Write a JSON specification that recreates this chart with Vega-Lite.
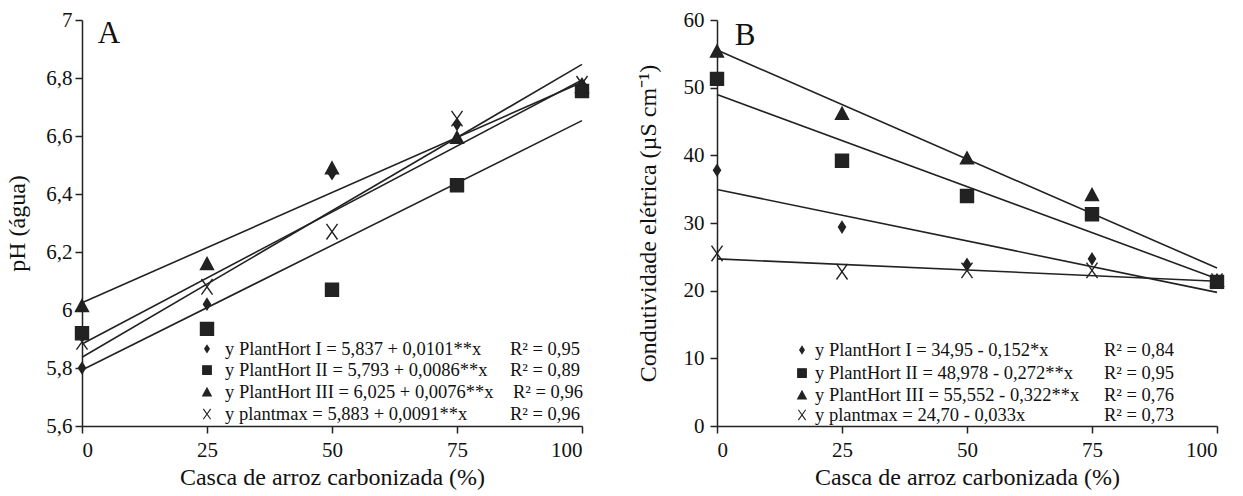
{
  "$schema": "https://vega.github.io/schema/vega-lite/v6.json",
  "background": "white",
  "padding": {"left": 5, "top": 9, "right": 5, "bottom": 5},
  "bounds": "flush",
  "spacing": 135,
  "config": {
    "view": {"stroke": null},
    "font": "Liberation Serif",
    "axis": {
      "grid": false,
      "labelFont": "Liberation Serif",
      "titleFont": "Liberation Serif",
      "labelFontSize": 21,
      "titleFontSize": 24,
      "titleFontWeight": "normal",
      "labelColor": "#111",
      "titleColor": "#111",
      "domainColor": "#222",
      "tickColor": "#222",
      "domainWidth": 1.5,
      "tickWidth": 1.5,
      "tickSize": 7,
      "labelPadding": 3
    }
  },
  "datasets": {
    "pts": [
      {"panel": "A", "series": "I", "x": 0, "y": 5.80},
      {"panel": "A", "series": "I", "x": 25, "y": 6.02},
      {"panel": "A", "series": "I", "x": 50, "y": 6.47},
      {"panel": "A", "series": "I", "x": 75, "y": 6.64},
      {"panel": "A", "series": "I", "x": 100, "y": 6.78},
      {"panel": "A", "series": "II", "x": 0, "y": 5.92},
      {"panel": "A", "series": "II", "x": 25, "y": 5.935},
      {"panel": "A", "series": "II", "x": 50, "y": 6.07},
      {"panel": "A", "series": "II", "x": 75, "y": 6.43},
      {"panel": "A", "series": "II", "x": 100, "y": 6.755},
      {"panel": "A", "series": "III", "x": 0, "y": 6.015},
      {"panel": "A", "series": "III", "x": 25, "y": 6.16},
      {"panel": "A", "series": "III", "x": 50, "y": 6.49},
      {"panel": "A", "series": "III", "x": 75, "y": 6.595},
      {"panel": "A", "series": "III", "x": 100, "y": 6.77},
      {"panel": "A", "series": "max", "x": 0, "y": 5.89},
      {"panel": "A", "series": "max", "x": 25, "y": 6.08},
      {"panel": "A", "series": "max", "x": 50, "y": 6.27},
      {"panel": "A", "series": "max", "x": 75, "y": 6.66},
      {"panel": "A", "series": "max", "x": 100, "y": 6.78},
      {"panel": "B", "series": "I", "x": 0, "y": 37.8},
      {"panel": "B", "series": "I", "x": 25, "y": 29.4},
      {"panel": "B", "series": "I", "x": 50, "y": 23.9},
      {"panel": "B", "series": "I", "x": 75, "y": 24.7},
      {"panel": "B", "series": "I", "x": 100, "y": 21.5},
      {"panel": "B", "series": "II", "x": 0, "y": 51.3},
      {"panel": "B", "series": "II", "x": 25, "y": 39.2},
      {"panel": "B", "series": "II", "x": 50, "y": 34.0},
      {"panel": "B", "series": "II", "x": 75, "y": 31.3},
      {"panel": "B", "series": "II", "x": 100, "y": 21.3},
      {"panel": "B", "series": "III", "x": 0, "y": 55.4},
      {"panel": "B", "series": "III", "x": 25, "y": 46.2},
      {"panel": "B", "series": "III", "x": 50, "y": 39.6},
      {"panel": "B", "series": "III", "x": 75, "y": 34.2},
      {"panel": "B", "series": "III", "x": 100, "y": 21.5},
      {"panel": "B", "series": "max", "x": 0, "y": 25.5},
      {"panel": "B", "series": "max", "x": 25, "y": 22.8},
      {"panel": "B", "series": "max", "x": 50, "y": 23.0},
      {"panel": "B", "series": "max", "x": 75, "y": 23.0},
      {"panel": "B", "series": "max", "x": 100, "y": 21.4}
    ],
    "fit": [
      {"panel": "A", "series": "I", "x": 0, "y": 5.837},
      {"panel": "A", "series": "I", "x": 100, "y": 6.847},
      {"panel": "A", "series": "II", "x": 0, "y": 5.793},
      {"panel": "A", "series": "II", "x": 100, "y": 6.653},
      {"panel": "A", "series": "III", "x": 0, "y": 6.025},
      {"panel": "A", "series": "III", "x": 100, "y": 6.785},
      {"panel": "A", "series": "max", "x": 0, "y": 5.883},
      {"panel": "A", "series": "max", "x": 100, "y": 6.793},
      {"panel": "B", "series": "I", "x": 0, "y": 34.95},
      {"panel": "B", "series": "I", "x": 100, "y": 19.75},
      {"panel": "B", "series": "II", "x": 0, "y": 48.978},
      {"panel": "B", "series": "II", "x": 100, "y": 21.778},
      {"panel": "B", "series": "III", "x": 0, "y": 55.552},
      {"panel": "B", "series": "III", "x": 100, "y": 23.352},
      {"panel": "B", "series": "max", "x": 0, "y": 24.70},
      {"panel": "B", "series": "max", "x": 100, "y": 21.40}
    ],
    "leg": [
      {"panel": "A", "series": "I", "sx": 25.0, "tx": 28.6, "rx": 85.6, "y": 5.866, "label": "y PlantHort I = 5,837 + 0,0101**x", "r2": "R² = 0,95"},
      {"panel": "A", "series": "II", "sx": 25.0, "tx": 28.6, "rx": 85.6, "y": 5.793, "label": "y PlantHort II = 5,793 + 0,0086**x", "r2": "R² = 0,89"},
      {"panel": "A", "series": "III", "sx": 25.0, "tx": 28.6, "rx": 86.2, "y": 5.717, "label": "y PlantHort III = 6,025 + 0,0076**x", "r2": "R² = 0,96"},
      {"panel": "A", "series": "max", "sx": 25.0, "tx": 28.6, "rx": 85.6, "y": 5.641, "label": "y plantmax = 5,883 + 0,0091**x", "r2": "R² = 0,96"},
      {"panel": "B", "series": "I", "sx": 17, "tx": 19.6, "rx": 77.4, "y": 11.23, "label": "y PlantHort I =  34,95 - 0,152*x", "r2": "R² = 0,84"},
      {"panel": "B", "series": "II", "sx": 17, "tx": 19.6, "rx": 77.4, "y": 7.83, "label": "y PlantHort II = 48,978 - 0,272**x", "r2": "R² = 0,95"},
      {"panel": "B", "series": "III", "sx": 17, "tx": 19.6, "rx": 77.4, "y": 4.58, "label": "y PlantHort III = 55,552 - 0,322**x", "r2": "R² = 0,76"},
      {"panel": "B", "series": "max", "sx": 17, "tx": 19.6, "rx": 77.4, "y": 1.63, "label": "y plantmax = 24,70 - 0,033x", "r2": "R² = 0,73"}
    ],
    "tags": [
      {"panel": "A", "x": 5.4, "y": 6.952, "t": "A"},
      {"panel": "B", "x": 5.6, "y": 57.6, "t": "B"}
    ]
  },
  "hconcat": [
    {
      "width": 500,
      "height": 406,
      "encoding": {
        "x": {"field": "x", "type": "quantitative", "scale": {"domain": [0, 100], "nice": false}, "axis": {"values": [0, 25, 50, 75, 100], "title": "Casca de arroz carbonizada (%)", "labelPadding": 6, "titlePadding": 5}},
        "y": {"field": "y", "type": "quantitative", "scale": {"domain": [5.6, 7], "nice": false, "zero": false}, "axis": {"values": [5.6, 5.8, 6, 6.2, 6.4, 6.6, 6.8, 7], "labelExpr": "replace(format(datum.value, '.1~f'), '.', ',')", "title": "pH (água)", "titlePadding": 16}}
      },
      "layer": [
        {
          "data": {"name": "fit"},
          "transform": [{"filter": "datum.panel === 'A'"}],
          "mark": {"type": "line", "color": "#222", "strokeWidth": 1.6},
          "encoding": {"detail": {"field": "series"}}
        },
        {
          "data": {"name": "pts"},
          "transform": [{"filter": "datum.panel === 'A'"}],
          "mark": {"type": "point", "filled": true, "fill": "#222", "stroke": "#222", "strokeWidth": 1.4, "opacity": 1, "size": 169},
          "encoding": {"shape": {"field": "series", "scale": {"domain": ["I", "II", "III", "max"], "range": ["M0,-0.85L0.54,0L0,0.85L-0.54,0Z", "M-1,-1L1,-1L1,1L-1,1Z", "M0,-0.95L1,0.9L-1,0.9Z", "M-0.85,-1.2L0.85,1.2M0.85,-1.2L-0.85,1.2"]}, "legend": null}}
        },
        {
          "data": {"name": "leg"},
          "transform": [{"filter": "datum.panel === 'A'"}],
          "mark": {"type": "point", "filled": true, "fill": "#222", "stroke": "#222", "strokeWidth": 1.1, "opacity": 1, "size": 75},
          "encoding": {"x": {"field": "sx", "type": "quantitative"}, "shape": {"field": "series", "scale": {"domain": ["I", "II", "III", "max"], "range": ["M0,-0.85L0.54,0L0,0.85L-0.54,0Z", "M-1,-1L1,-1L1,1L-1,1Z", "M0,-0.95L1,0.9L-1,0.9Z", "M-0.85,-1.2L0.85,1.2M0.85,-1.2L-0.85,1.2"]}, "legend": null}}
        },
        {
          "data": {"name": "leg"},
          "transform": [{"filter": "datum.panel === 'A'"}],
          "mark": {"type": "text", "align": "left", "baseline": "middle", "fontSize": 18.5, "font": "Liberation Serif", "color": "#111"},
          "encoding": {"x": {"field": "tx", "type": "quantitative"}, "text": {"field": "label"}}
        },
        {
          "data": {"name": "leg"},
          "transform": [{"filter": "datum.panel === 'A'"}],
          "mark": {"type": "text", "align": "left", "baseline": "middle", "fontSize": 18.5, "font": "Liberation Serif", "color": "#111"},
          "encoding": {"x": {"field": "rx", "type": "quantitative"}, "text": {"field": "r2"}}
        },
        {
          "data": {"name": "tags"},
          "transform": [{"filter": "datum.panel === 'A'"}],
          "mark": {"type": "text", "align": "center", "baseline": "middle", "fontSize": 31, "font": "Liberation Serif", "color": "#111"},
          "encoding": {"text": {"field": "t"}}
        }
      ]
    },
    {
      "width": 500,
      "height": 406,
      "encoding": {
        "x": {"field": "x", "type": "quantitative", "scale": {"domain": [0, 100], "nice": false}, "axis": {"values": [0, 25, 50, 75, 100], "title": "Casca de arroz carbonizada (%)", "labelPadding": 6, "titlePadding": 5}},
        "y": {"field": "y", "type": "quantitative", "scale": {"domain": [0, 60], "nice": false}, "axis": {"values": [0, 10, 20, 30, 40, 50, 60], "title": "Condutividade elétrica (µS cm⁻¹)", "labelPadding": 6, "titlePadding": 23}}
      },
      "layer": [
        {
          "data": {"name": "fit"},
          "transform": [{"filter": "datum.panel === 'B'"}],
          "mark": {"type": "line", "color": "#222", "strokeWidth": 1.6},
          "encoding": {"detail": {"field": "series"}}
        },
        {
          "data": {"name": "pts"},
          "transform": [{"filter": "datum.panel === 'B'"}],
          "mark": {"type": "point", "filled": true, "fill": "#222", "stroke": "#222", "strokeWidth": 1.4, "opacity": 1, "size": 169},
          "encoding": {"shape": {"field": "series", "scale": {"domain": ["I", "II", "III", "max"], "range": ["M0,-0.85L0.54,0L0,0.85L-0.54,0Z", "M-1,-1L1,-1L1,1L-1,1Z", "M0,-0.95L1,0.9L-1,0.9Z", "M-0.85,-1.2L0.85,1.2M0.85,-1.2L-0.85,1.2"]}, "legend": null}}
        },
        {
          "data": {"name": "leg"},
          "transform": [{"filter": "datum.panel === 'B'"}],
          "mark": {"type": "point", "filled": true, "fill": "#222", "stroke": "#222", "strokeWidth": 1.1, "opacity": 1, "size": 75},
          "encoding": {"x": {"field": "sx", "type": "quantitative"}, "shape": {"field": "series", "scale": {"domain": ["I", "II", "III", "max"], "range": ["M0,-0.85L0.54,0L0,0.85L-0.54,0Z", "M-1,-1L1,-1L1,1L-1,1Z", "M0,-0.95L1,0.9L-1,0.9Z", "M-0.85,-1.2L0.85,1.2M0.85,-1.2L-0.85,1.2"]}, "legend": null}}
        },
        {
          "data": {"name": "leg"},
          "transform": [{"filter": "datum.panel === 'B'"}],
          "mark": {"type": "text", "align": "left", "baseline": "middle", "fontSize": 18.5, "font": "Liberation Serif", "color": "#111"},
          "encoding": {"x": {"field": "tx", "type": "quantitative"}, "text": {"field": "label"}}
        },
        {
          "data": {"name": "leg"},
          "transform": [{"filter": "datum.panel === 'B'"}],
          "mark": {"type": "text", "align": "left", "baseline": "middle", "fontSize": 18.5, "font": "Liberation Serif", "color": "#111"},
          "encoding": {"x": {"field": "rx", "type": "quantitative"}, "text": {"field": "r2"}}
        },
        {
          "data": {"name": "tags"},
          "transform": [{"filter": "datum.panel === 'B'"}],
          "mark": {"type": "text", "align": "center", "baseline": "middle", "fontSize": 31, "font": "Liberation Serif", "color": "#111"},
          "encoding": {"text": {"field": "t"}}
        }
      ]
    }
  ]
}
